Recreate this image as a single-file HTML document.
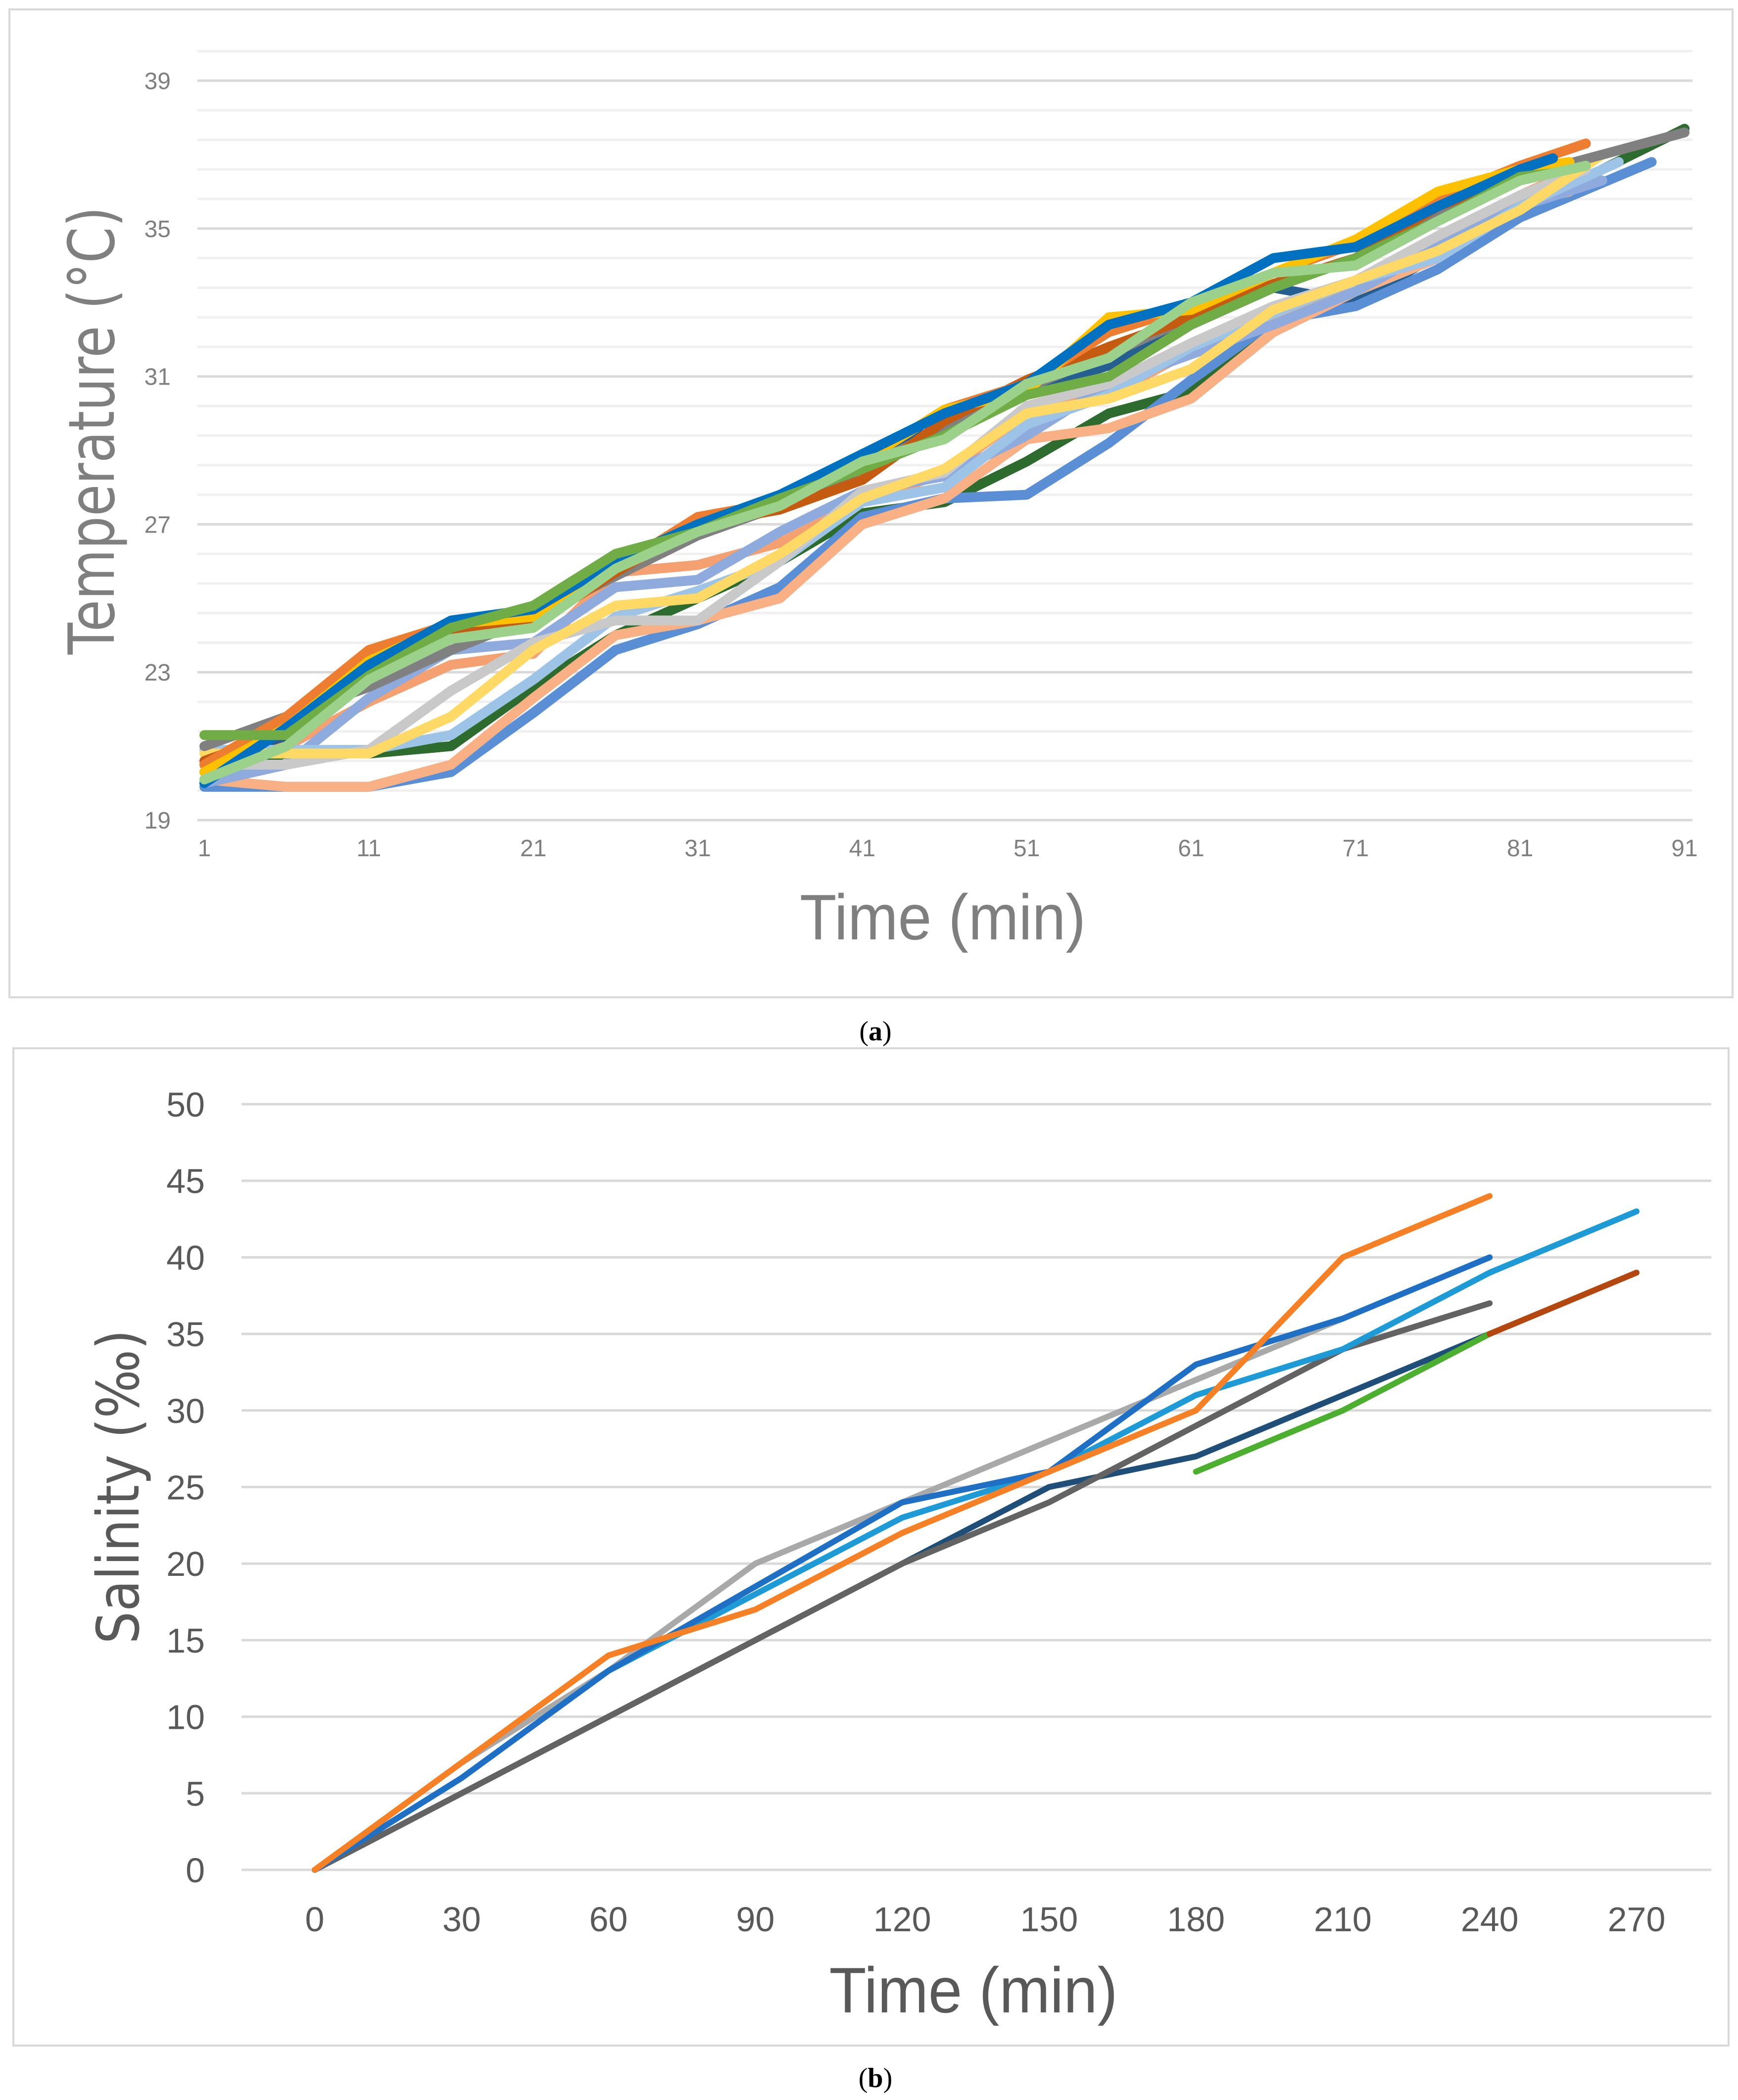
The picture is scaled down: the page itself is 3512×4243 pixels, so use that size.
<!DOCTYPE html>
<html><head><meta charset="utf-8"><style>
html,body{margin:0;padding:0;background:#fff;}
svg{display:block;}
text{font-family:"Liberation Sans",sans-serif;}
</style></head>
<body>
<svg id="root" width="3512" height="4243" viewBox="0 0 3512 4243" xmlns="http://www.w3.org/2000/svg">
<rect x="19" y="19" width="3482" height="1996" fill="#fff" stroke="#D9D9D9" stroke-width="4"/>
<rect x="27" y="2118" width="3466" height="2015" fill="#fff" stroke="#D9D9D9" stroke-width="4"/>
<g id="ga"></g>
<g id="gb"></g>
<text x="195" y="870" transform="rotate(-90 195 870)" text-anchor="middle" dominant-baseline="middle" font-size="128" fill="#7F7F7F" textLength="905" lengthAdjust="spacingAndGlyphs" style="font-family:'DejaVu Sans',sans-serif">Temperature (°C)</text>
<text x="1905" y="1898" text-anchor="middle" font-size="130" fill="#7F7F7F" textLength="578" lengthAdjust="spacingAndGlyphs">Time (min)</text>
<text x="1769" y="2102" text-anchor="middle" font-size="56" fill="#000" style="font-family:'Liberation Serif',serif">(<tspan font-weight="bold">a</tspan>)</text>
<text x="248" y="3004" transform="rotate(-90 248 3004)" text-anchor="middle" dominant-baseline="middle" font-size="118" fill="#595959" textLength="635" lengthAdjust="spacingAndGlyphs" style="font-family:'DejaVu Sans',sans-serif">Salinity (‰)</text>
<text x="1967" y="4066" text-anchor="middle" font-size="130" fill="#595959" textLength="583" lengthAdjust="spacingAndGlyphs">Time (min)</text>
<text x="1769" y="4217" text-anchor="middle" font-size="56" fill="#000" style="font-family:'Liberation Serif',serif">(<tspan font-weight="bold">b</tspan>)</text>
</svg>
<script>
// ---- Chart A data ----
const aTimes = [1,6,11,16,21,26,31,36,41,46,51,56,61,66,71,76,81];
const aXTicks = [1,11,21,31,41,51,61,71,81,91];
const aYTicks = [19,23,27,31,35,39];
const aColors = ["#ED7D31","#0070C0","#808080","#2E6B2E","#5B8FD5","#F8B084","#9BD18A","#FFD966","#C9C9C9","#9DC3E6","#8FAADC","#70AD47","#C55A11","#FFC000","#255E91","#F4A070"];
const aEnds = [85,83,91,91,89,84,85,86,85,87,86,83,83,84,83,84];
const aEndVals = [37.3,36.9,37.6,37.7,36.8,36,36.7,37,36.6,36.8,36.3,36.5,36.5,36.8,35.9,36.5];
const s0=[20.5,21.8,23.6,24.3,24.6,25.8,27.2,27.6,28.7,30.1,30.8,32.2,32.9,33.8,34.6,35.8,36.7];
const s1=[20,21.5,23.2,24.4,24.7,26,27,27.8,28.9,30,30.8,32.4,33,34.2,34.5,35.6,36.6];
const s2=[21,21.8,22.6,23.6,24.5,25.6,26.7,27.5,28.5,29.6,30.7,31.6,32.6,33.5,34.2,35.3,36.4];
const s3=[20.3,20.8,20.8,21,22.6,24,25,26,27.3,27.6,28.7,30,30.6,32.2,33.3,34.3,35.5];
const s4=[19.9,19.9,19.9,20.3,21.9,23.6,24.3,25.3,27.2,27.7,27.8,29.2,30.9,32.5,32.9,33.9,35.3];
const s5=[20.1,19.9,19.9,20.5,22.3,24,24.4,25,27,27.7,29.3,29.6,30.4,32.2,33.3,34.2,35.7];
const s6=[20.1,21,22.8,23.9,24.2,25.8,26.8,27.5,28.7,29.3,30.8,31.5,33,33.8,34,35.2,36.3];
const s7=[20.8,20.8,20.8,21.8,23.6,24.8,25,26.2,27.7,28.5,30,30.4,31.2,32.8,33.6,34.4,35.5];
const s8=[20.5,20.5,20.9,22.5,23.8,24.4,24.4,26,27.9,28.4,30.2,30.8,31.9,32.9,33.6,34.8,35.9];
const s9=[20.9,20.9,20.9,21.3,22.8,24.5,25.2,26,27.6,28,29.7,30.5,31.8,32.7,33.6,34.2,35.6];
const s10=[20,20.5,22.3,23.6,23.8,25.3,25.5,26.8,27.9,28.3,29.4,30.8,31.6,32.4,33.3,34.5,35.6];
const s11=[21.3,21.3,22.9,24.2,24.8,26.2,26.8,27.7,28.5,29.4,30.5,31,32.4,33.4,34.2,35.2,36.4];
const s12=[20.6,21.4,23.1,24,24.3,25.7,27,27.4,28.2,29.8,30.9,31.8,32.6,33.5,34.2,35.6,36.4];
const s13=[20.3,21.5,23.3,24.3,24.5,26,27,27.8,28.7,30.1,30.6,32.6,32.8,33.8,34.7,36,36.6];
const s14=[20,21.2,22.8,24,24.5,26,27,27.4,28.9,29.6,30.6,31.3,32.4,33.4,33,34.3,35.7];
const s15=[20.3,21,22.2,23.2,23.5,25.7,25.9,26.5,27.6,28.4,30,30.5,31.7,32.5,33.3,34.6,35.9];
const aSeries=[s3,s14,s4,s5,s15,s10,s9,s8,s7,s2,s12,s0,s13,s1,s11,s6];
const aSeriesColorIdx=[3,14,4,5,15,10,9,8,7,2,12,0,13,1,11,6];

// ---- Chart B data ----
const bXTicks=[0,30,60,90,120,150,180,210,240,270];
const bYTicks=[0,5,10,15,20,25,30,35,40,45,50];
const bStart=[0,0,0,0,0,0,180,240];
const bOrange=[0,7,14,17,22,26,30,40,44];
const bBlue=[0,6,13,18.5,24,26,33,36,40];
const bCyan=[0,6,13,18,23,26,31,34,39,43];
const bLightGray=[0,7,13,20,24,28,32,36];
const bDarkGray=[0,5,10,15,20,24,29,34,37];
const bNavy=[0,5,10,15,20,25,27,31,35];
const bGreen=[26,30,35];
const bBrown=[35,39];
const bSeries=[bNavy,bDarkGray,bLightGray,bCyan,bBlue,bOrange,bGreen,bBrown];
const bNames=['navy','dark-gray','light-gray','cyan','blue','orange','green','brown'];
const bColors=["#1F4E79","#636363","#A9A9A9","#1E9AD6","#1F6FC4","#F58025","#4CAF30","#B4460F"];

const NS="http://www.w3.org/2000/svg";
function mk(tag,attrs,parent){const e=document.createElementNS(NS,tag);for(const k in attrs)e.setAttribute(k,attrs[k]);parent.appendChild(e);return e;}

// Chart A axes
const ax=t=>413+(t-1)*(3404-413)/90;
const ay=v=>1657-(v-19)*(1657-163)/20;
const ga=document.getElementById('ga');
for(let k=0;k<=26;k++){
  const v=19+k*0.8;
  const major=Math.abs((v-19)/4-Math.round((v-19)/4))<1e-6;
  const l=mk('line',{x1:399,x2:3420,y1:ay(v),y2:ay(v),stroke:major?'#D9D9D9':'#F0F0F0','stroke-width':5},ga);
  
  
}
aYTicks.forEach(v=>{
  const t=mk('text',{x:345,y:ay(v)+17,'text-anchor':'end','font-size':48,fill:'#7F7F7F'},ga);
  t.textContent=v;
  
  
});
aXTicks.forEach(v=>{
  const t=mk('text',{x:ax(v),y:1730,'text-anchor':'middle','font-size':48,fill:'#7F7F7F'},ga);
  t.textContent=v;
  
  
});
aSeries.forEach((vals,i)=>{
  const ci=aSeriesColorIdx[i];
  const pts=vals.map((v,j)=>ax(aTimes[j])+','+ay(v));
  pts.push(ax(aEnds[ci])+','+ay(aEndVals[ci]));
  const p=mk('polyline',{points:pts.join(' '),fill:'none',stroke:aColors[ci],'stroke-width':20,'stroke-linejoin':'round','stroke-linecap':'round'},ga);
  
  
});

// Chart B axes
const bx=t=>636+t*(3307-636)/270;
const by=v=>3778-v*(3778-2231)/50;
const gb=document.getElementById('gb');
bYTicks.forEach(v=>{
  const l=mk('line',{x1:488,x2:3458,y1:by(v),y2:by(v),stroke:'#D9D9D9','stroke-width':5},gb);
  
  
  const t=mk('text',{x:414,y:by(v)+25,'text-anchor':'end','font-size':70,fill:'#595959'},gb);
  t.textContent=v;
  
  
});
bXTicks.forEach(v=>{
  const t=mk('text',{x:bx(v),y:3902,'text-anchor':'middle','font-size':70,fill:'#595959'},gb);
  t.textContent=v;
  
  
});
bSeries.forEach((vals,i)=>{
  const pts=vals.map((v,j)=>bx(bStart[i]+30*j)+','+by(v)).join(' ');
  const p=mk('polyline',{points:pts,fill:'none',stroke:bColors[i],'stroke-width':12,'stroke-linejoin':'round','stroke-linecap':'round'},gb);
  
  
});
</script>
</body></html>
